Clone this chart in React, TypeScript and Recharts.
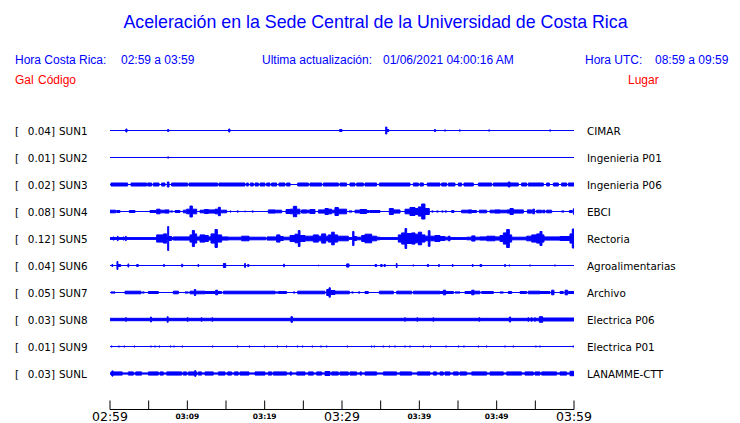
import { AreaChart, Area, XAxis, YAxis, LineChart, Line } from 'recharts'

// ─── Data (minutes after 02:59, amplitude in Gal) ────

const STATIONS = ['SUN1', 'SUN2', 'SUN3', 'SUN4', 'SUN5', 'SUN6', 'SUN7', 'SUN8', 'SUN9', 'SUNL']
const PEAKS = ['0.04', '0.01', '0.02', '0.08', '0.12', '0.04', '0.05', '0.03', '0.01', '0.03']
const PLACES = [
  'CIMAR', 'Ingenieria P01', 'Ingenieria P06', 'EBCI', 'Rectoria',
  'Agroalimentarias', 'Archivo', 'Electrica P06', 'Electrica P01', 'LANAMME-CTT',
]
// background amplitude of each trace between events
const BASES = [0, 0, 0, 0, 0.009, 0, 0, 0.012, 0, 0.006]

type Ev = [number, number, number] // start, end, amplitude

const SUN1: Ev[] = [
  [2.05, 2.2, 0.015], [7.45, 7.6, 0.01], [15.35, 15.5, 0.015], [29.7, 30.0, 0.01],
  [35.65, 35.8, 0.035], [35.8, 36.05, 0.01], [41.95, 42.1, 0.01], [43.25, 43.4, 0.006],
  [45.15, 45.3, 0.006], [48.95, 49.1, 0.006], [56.85, 57.0, 0.006],
]

const SUN2: Ev[] = [[7.45, 7.6, 0.006]]

const SUN3: Ev[] = [
  [0.13, 2.28, 0.015], [2.72, 4.74, 0.015], [4.87, 5.39, 0.015], [5.6, 6.34, 0.015],
  [6.68, 7.11, 0.015], [7.41, 7.63, 0.025], [7.97, 10.04, 0.015], [10.22, 13.92, 0.015],
  [14.09, 17.46, 0.015], [17.67, 17.89, 0.015], [18.15, 18.53, 0.015], [18.75, 19.18, 0.015],
  [19.4, 20.04, 0.015], [20.26, 20.69, 0.015], [20.9, 21.55, 0.015], [21.85, 22.63, 0.015],
  [22.84, 23.28, 0.015], [24.27, 25.65, 0.015], [25.86, 27.37, 0.015], [27.59, 29.53, 0.015],
  [29.74, 30.6, 0.015], [31.03, 31.68, 0.015], [31.9, 32.76, 0.015], [32.97, 34.48, 0.015],
  [34.83, 38.79, 0.015], [39.22, 39.87, 0.015], [40.09, 40.52, 0.015], [41.03, 42.67, 0.015],
  [42.89, 43.53, 0.015], [43.75, 44.61, 0.015], [45.04, 45.47, 0.015], [45.77, 46.98, 0.015],
  [47.63, 49.35, 0.015], [49.57, 51.5, 0.015], [51.5, 51.72, 0.025], [51.72, 52.8, 0.015],
  [53.23, 53.88, 0.015], [54.09, 56.03, 0.015], [56.46, 56.81, 0.015], [57.33, 57.97, 0.015],
  [58.4, 59.05, 0.015], [59.27, 60, 0.015],
]

const SUN4: Ev[] = [
  [0, 0.73, 0.013], [0.86, 1.29, 0.01], [2.5, 3.23, 0.01], [5.17, 6.03, 0.01],
  [6.03, 6.47, 0.023], [6.47, 7.11, 0.013], [7.11, 7.63, 0.016], [7.84, 8.1, 0.006],
  [8.41, 9.05, 0.01], [9.48, 9.91, 0.013], [9.91, 10.34, 0.023], [10.34, 10.65, 0.055],
  [10.65, 11.21, 0.023], [11.64, 12.2, 0.013], [12.2, 12.72, 0.02], [12.72, 13.58, 0.016],
  [13.58, 14.01, 0.023], [14.01, 14.27, 0.042], [14.27, 15.09, 0.013], [15.52, 15.65, 0.006],
  [16.42, 16.6, 0.006], [17.41, 17.54, 0.004], [18.36, 18.53, 0.006], [20.47, 21.34, 0.016],
  [21.34, 22.2, 0.013], [22.76, 23.28, 0.02], [23.28, 23.71, 0.023], [23.71, 24.14, 0.052],
  [24.14, 24.57, 0.023], [24.78, 25.43, 0.016], [25.43, 25.86, 0.013], [25.86, 26.51, 0.02],
  [26.94, 27.8, 0.016], [27.8, 28.23, 0.03], [28.23, 28.66, 0.023], [28.66, 29.09, 0.013],
  [29.09, 29.53, 0.04], [29.53, 30.6, 0.023], [30.9, 31.3, 0.006], [31.68, 32.33, 0.013],
  [32.33, 33.19, 0.02], [33.19, 33.53, 0.01], [33.62, 34.91, 0.01], [36.12, 36.64, 0.03],
  [36.64, 37.5, 0.016], [38.15, 38.79, 0.023], [38.79, 39.44, 0.04], [39.44, 39.87, 0.03],
  [39.87, 40.3, 0.046], [40.3, 40.73, 0.075], [40.73, 41.29, 0.03], [41.6, 41.8, 0.006],
  [42.24, 42.45, 0.006], [42.89, 43.1, 0.006], [43.32, 43.53, 0.006], [44.18, 44.48, 0.01],
  [45.47, 46.34, 0.013], [46.34, 46.77, 0.016], [46.77, 47.41, 0.01], [47.76, 48.71, 0.013],
  [49.14, 49.78, 0.013], [49.78, 50.43, 0.016], [50.43, 51.2, 0.013], [51.29, 51.72, 0.016],
  [51.72, 52.15, 0.03], [52.15, 53.45, 0.016], [53.97, 54.53, 0.016], [54.66, 54.91, 0.023],
  [55.17, 55.82, 0.013], [55.95, 56.25, 0.013], [56.46, 57.11, 0.013], [58.4, 58.7, 0.006],
  [59.4, 59.78, 0.01], [59.91, 60, 0.027],
]

const SUN5: Ev[] = [
  [0.4, 0.5, 0.016], [0.95, 1.05, 0.022], [1.7, 1.8, 0.016], [2.0, 2.1, 0.022],
  [6.03, 6.9, 0.036], [6.9, 7.33, 0.046], [7.33, 7.46, 0.023], [7.46, 7.59, 0.12],
  [7.59, 7.97, 0.02], [8.19, 9.7, 0.016], [9.7, 10.34, 0.016], [10.34, 10.65, 0.036],
  [10.65, 10.91, 0.08], [10.91, 11.21, 0.046], [11.21, 11.64, 0.016], [11.64, 12.28, 0.036],
  [12.28, 12.72, 0.03], [12.72, 13.06, 0.016], [13.06, 13.58, 0.046], [13.58, 13.88, 0.09],
  [13.88, 14.44, 0.036], [14.44, 15.3, 0.016], [15.3, 17.03, 0.013], [17.03, 17.97, 0.023],
  [17.97, 20.13, 0.013], [20.13, 20.3, 0], [20.3, 21.55, 0.016], [21.55, 21.98, 0.036],
  [21.98, 22.41, 0.02], [22.41, 23.28, 0.013], [23.28, 23.92, 0.03], [23.92, 24.35, 0.043],
  [24.35, 24.57, 0.08], [24.57, 25.22, 0.03], [25.22, 26.29, 0.023], [26.29, 26.94, 0.036],
  [26.94, 27.37, 0.023], [27.37, 27.89, 0.046], [27.89, 28.23, 0.023], [28.23, 28.66, 0.036],
  [28.66, 29.0, 0.063], [29.0, 29.44, 0.036], [29.44, 30.82, 0.023], [31.38, 31.55, 0.07],
  [31.55, 31.9, 0.02], [31.9, 32.54, 0.013], [32.54, 32.97, 0.03], [32.97, 33.84, 0.043],
  [33.84, 34.48, 0.023], [34.48, 34.91, 0.013], [37.28, 37.71, 0.036], [37.71, 38.15, 0.056],
  [38.15, 38.36, 0.1], [38.36, 39.0, 0.05], [39.0, 39.44, 0.056], [39.44, 39.87, 0.043],
  [39.87, 40.3, 0.063], [40.3, 40.73, 0.036], [40.73, 41.16, 0.023], [41.16, 41.38, 0.078],
  [41.38, 42.02, 0.023], [42.02, 42.67, 0.03], [42.67, 43.32, 0.02], [43.32, 43.75, 0.013],
  [43.75, 43.97, 0.023], [46.12, 46.77, 0.013], [46.77, 47.2, 0.026], [47.2, 47.84, 0.013],
  [47.84, 48.71, 0.016], [48.71, 49.78, 0.023], [49.78, 50.43, 0.016], [50.43, 50.86, 0.03],
  [50.86, 51.29, 0.056], [51.29, 51.64, 0.09], [51.64, 51.94, 0.036], [51.94, 53.88, 0.013],
  [53.88, 54.53, 0.023], [54.53, 55.17, 0.036], [55.17, 55.6, 0.046], [55.6, 55.86, 0.07],
  [55.86, 56.12, 0.036], [56.12, 58.19, 0.016], [58.19, 59.48, 0.02], [59.48, 59.78, 0.046],
  [59.78, 60, 0.095],
]

const SUN6: Ev[] = [
  [0.25, 0.35, 0.01], [0.9, 1.02, 0.04], [1.02, 1.38, 0.01], [2.32, 2.42, 0.016],
  [3.45, 3.66, 0.01], [6.93, 7.03, 0.01], [9.27, 9.4, 0.013], [11.37, 11.47, 0.01],
  [14.66, 14.96, 0.02], [17.41, 17.51, 0.02], [17.8, 17.97, 0.01], [22.45, 22.55, 0.013],
  [26.9, 27.0, 0.004], [30.6, 30.9, 0.016], [34.27, 34.48, 0.01], [35.0, 35.2, 0.01],
  [35.44, 35.6, 0.01], [37.02, 37.12, 0.02], [39.17, 39.27, 0.006], [41.03, 41.2, 0.01],
  [42.49, 42.59, 0.01], [44.26, 44.36, 0.01], [46.85, 46.95, 0.01], [47.84, 48.06, 0.01],
  [51.03, 51.13, 0.01], [51.59, 51.69, 0.006], [54.26, 54.36, 0.006], [57.49, 57.59, 0.006],
]

const SUN7: Ev[] = [
  [0.13, 0.65, 0.006], [1.94, 4.01, 0.013], [4.18, 4.44, 0.006], [4.96, 6.25, 0.01],
  [8.19, 8.84, 0.013], [9.7, 10.13, 0.006], [10.34, 10.91, 0.013], [10.91, 11.08, 0.03],
  [11.08, 12.28, 0.013], [12.28, 13.58, 0.01], [13.66, 13.92, 0.023], [13.92, 14.44, 0.01],
  [14.66, 21.34, 0.013], [21.34, 21.77, 0.006], [21.77, 22.84, 0.01], [23.71, 23.92, 0.006],
  [24.27, 27.8, 0.013], [28.02, 28.32, 0.03], [28.32, 28.49, 0.047], [28.49, 29.09, 0.02],
  [29.09, 30.95, 0.013], [31.25, 31.46, 0.006], [32.1, 32.33, 0.006], [32.97, 33.4, 0.01],
  [34.83, 36.64, 0.013], [37.07, 39.01, 0.013], [39.22, 42.67, 0.013], [42.67, 43.1, 0.01],
  [43.1, 43.4, 0.023], [43.4, 44.4, 0.01], [44.61, 45.26, 0.006], [45.9, 46.77, 0.01],
  [46.77, 47.07, 0.023], [47.07, 47.84, 0.013], [48.06, 49.57, 0.01], [50.43, 50.86, 0.006],
  [51.51, 51.94, 0.01], [53.02, 53.88, 0.01], [54.09, 55.6, 0.013], [55.6, 56.9, 0.01],
  [57.11, 57.41, 0.023], [58.19, 58.62, 0.01], [58.84, 59.18, 0.023], [59.27, 60, 0.01],
]

const SUN8: Ev[] = [
  [2.0, 2.12, 0.018], [5.24, 5.36, 0.025], [7.4, 7.52, 0.028], [9.98, 10.1, 0.018],
  [11.8, 11.9, 0.018], [13.18, 13.28, 0.018], [23.4, 23.6, 0.028], [38.1, 38.2, 0.018],
  [39.69, 39.79, 0.018], [41.76, 41.86, 0.018], [47.71, 47.81, 0.018], [51.64, 51.8, 0.025],
  [54.04, 54.14, 0.018], [54.48, 54.58, 0.018], [54.91, 55.01, 0.018], [55.52, 55.95, 0.028],
  [55.95, 60, 0.015],
]

const SUN9: Ev[] = [
  [0.17, 0.27, 0.006], [1.11, 1.21, 0.006], [1.8, 1.9, 0.006], [3.1, 3.2, 0.006],
  [5.25, 5.35, 0.006], [5.77, 5.87, 0.006], [6.33, 6.43, 0.006], [7.79, 7.89, 0.006],
  [8.23, 8.33, 0.006], [9.3, 9.4, 0.006], [13.23, 13.33, 0.006], [16.46, 16.56, 0.006],
  [17.97, 18.07, 0.006], [19.91, 20.01, 0.006], [21.59, 21.69, 0.006], [22.79, 22.89, 0.006],
  [24.22, 24.32, 0.006], [24.86, 24.96, 0.006], [26.11, 26.21, 0.006], [27.23, 27.33, 0.006],
  [27.97, 28.07, 0.006], [30.64, 30.74, 0.006], [33.78, 33.88, 0.006], [34.13, 34.23, 0.006],
  [35.29, 35.39, 0.006], [36.07, 36.17, 0.006], [36.8, 36.9, 0.006], [38.1, 38.2, 0.006],
  [38.74, 38.84, 0.006], [40.47, 40.57, 0.006], [41.41, 41.51, 0.006], [43.4, 43.5, 0.006],
  [44.99, 45.09, 0.006], [45.72, 45.82, 0.006], [47.58, 47.68, 0.006], [48.66, 48.76, 0.006],
  [51.03, 51.13, 0.006], [52.1, 52.2, 0.006], [55.03, 55.13, 0.006], [55.55, 55.65, 0.006],
  [59.86, 59.96, 0.006],
]

const SUNL: Ev[] = [
  [0.13, 0.25, 0.016], [0.25, 0.4, 0.026], [0.4, 1.59, 0.016], [2.37, 3.02, 0.016],
  [3.32, 4.09, 0.016], [4.96, 6.25, 0.016], [6.47, 6.9, 0.016], [7.33, 9.27, 0.016],
  [9.48, 9.91, 0.016], [10.13, 10.95, 0.016], [10.95, 11.1, 0.028], [11.1, 11.21, 0.016],
  [11.42, 11.85, 0.016], [12.28, 13.36, 0.016], [14.01, 14.87, 0.016], [15.22, 15.73, 0.016],
  [16.08, 16.59, 0.016], [16.81, 17.97, 0.016], [18.75, 20.04, 0.016], [20.47, 20.91, 0.016],
  [21.12, 22.84, 0.016], [23.28, 23.49, 0.016], [24.14, 25.22, 0.016], [25.65, 26.29, 0.016],
  [26.72, 27.37, 0.016], [27.8, 28.45, 0.02], [28.66, 29.53, 0.016], [29.74, 30.82, 0.016],
  [31.03, 31.9, 0.016], [32.33, 32.54, 0.016], [32.97, 34.48, 0.016], [35.34, 37.07, 0.016],
  [37.5, 39.01, 0.016], [39.74, 41.38, 0.016], [41.81, 42.24, 0.016], [42.67, 43.1, 0.016],
  [43.32, 43.96, 0.016], [44.4, 45.04, 0.016], [45.26, 46.12, 0.016], [46.77, 48.71, 0.016],
  [49.14, 50.86, 0.016], [51.29, 53.23, 0.016], [53.66, 54.74, 0.016], [54.96, 55.6, 0.016],
  [55.82, 57.76, 0.016], [58.19, 59.05, 0.016], [59.48, 60, 0.022],
]

const EVENTS = [SUN1, SUN2, SUN3, SUN4, SUN5, SUN6, SUN7, SUN8, SUN9, SUNL]

const TICK_MINUTES = [0, 5, 10, 15, 20, 25, 30, 35, 40, 45, 50, 55, 60]
const TICK_LABELS = ['02:59', '', '03:09', '', '03:19', '', '03:29', '', '03:39', '', '03:49', '', '03:59']
const MAJOR_LABELS = ['02:59', '03:29', '03:59']

// ─── layout ─────────────────────────────────────────────────────────────────

const BLUE = '#0000ff'
const RED = '#ff0000'
const PLOT_X = 110
const PLOT_W = 464
const ROW_TOP = 117
const ROW_H = 27
const SANS = '"Liberation Sans", Arial, sans-serif'
const DEJAVU = '"DejaVu Sans", sans-serif'

// step-shaped envelope rows from the event list of one station
function buildRows(base: number, events: Ev[]) {
  const rows: { t: number; v: [number, number] }[] = []
  const push = (t: number, a: number) => rows.push({ t, v: [-a, a] })
  push(0, base)
  let last = 0
  for (const [s, e, a] of events) {
    if (s > last) push(s, a)
    else { rows.pop(); push(s, a) }
    push(e, base)
    last = e
  }
  if (last < 60) push(60, base)
  return rows
}

function Trace({ index }: { index: number }) {
  const rows = buildRows(BASES[index], EVENTS[index])
  return (
    <div style={{ position: 'absolute', left: PLOT_X, top: ROW_TOP + index * ROW_H }}>
      <AreaChart width={PLOT_W} height={ROW_H} data={rows} margin={{ top: 0, right: 0, bottom: 0, left: 0 }}>
        <XAxis dataKey="t" type="number" domain={[0, 60]} hide />
        <YAxis type="number" domain={[-0.135, 0.135]} hide allowDataOverflow />
        <Area
          dataKey="v"
          type="stepAfter"
          stroke={BLUE}
          strokeWidth={1}
          fill={BLUE}
          fillOpacity={1}
          dot={false}
          activeDot={false}
          isAnimationActive={false}
        />
      </AreaChart>
    </div>
  )
}

function TimeTick({ x, y, payload }: any) {
  const i = TICK_MINUTES.indexOf(payload.value)
  const label = TICK_LABELS[i] ?? ''
  const major = MAJOR_LABELS.includes(label)
  return (
    <g>
      <line x1={x} y1={y - 9} x2={x} y2={y} stroke="#000" strokeWidth={1} />
      {label && (
        <text
          x={x}
          y={y + (major ? 7 : 6.5)}
          textAnchor="middle"
          dominantBaseline="central"
          fontFamily={DEJAVU}
          fontSize={major ? 12.5 : 7.5}
          fontWeight={major ? 400 : 700}
          fill="#000"
        >
          {label}
        </text>
      )}
    </g>
  )
}

function TimeAxis() {
  const rows = TICK_MINUTES.map((t) => ({ t }))
  return (
    <div style={{ position: 'absolute', left: PLOT_X - 30, top: 395 }}>
      <LineChart width={PLOT_W + 60} height={28} data={rows} margin={{ top: 0, right: 30, bottom: 0, left: 30 }}>
        <XAxis
          dataKey="t"
          type="number"
          domain={[0, 60]}
          ticks={TICK_MINUTES}
          interval={0}
          height={13.5}
          tickSize={0}
          tickMargin={0}
          tickLine={false}
          axisLine={{ stroke: '#000', strokeWidth: 1 }}
          tick={<TimeTick />}
        />
        <YAxis hide domain={[0, 1]} />
        <Line dataKey="t" stroke="none" dot={false} isAnimationActive={false} />
      </LineChart>
    </div>
  )
}

export default function App() {
  const txt = { dominantBaseline: 'central' as const }
  return (
    <div style={{ position: 'absolute', left: 0, top: 0, width: 740, height: 423, background: '#fff', overflow: 'hidden' }}>
      <svg width={740} height={423} style={{ position: 'absolute', left: 0, top: 0 }}>
        <text x={375.5} y={22} textAnchor="middle" fontFamily={SANS} fontSize={17.8} fill={BLUE} {...txt}>
          Aceleración en la Sede Central de la Universidad de Costa Rica
        </text>
        <g fontFamily={SANS} fontSize={12} fill={BLUE}>
          <text x={15} y={60} {...txt}>Hora Costa Rica:</text>
          <text x={121} y={60} {...txt}>02:59 a 03:59</text>
          <text x={262} y={60} {...txt}>Ultima actualización:</text>
          <text x={383} y={60} {...txt}>01/06/2021 04:00:16 AM</text>
          <text x={585} y={60} {...txt}>Hora UTC:</text>
          <text x={655} y={60} {...txt}>08:59 a 09:59</text>
        </g>
        <g fontFamily={SANS} fontSize={12} fill={RED}>
          <text x={15} y={80} {...txt}>Gal</text>
          <text x={38} y={80} {...txt}>Código</text>
          <text x={628} y={80} {...txt}>Lugar</text>
        </g>
        <g fontFamily={DEJAVU} fontSize={10.4} fill="#000">
          {STATIONS.map((s, i) => {
            const y = ROW_TOP + i * ROW_H + 13.5
            return (
              <g key={s}>
                <text x={15} y={y} {...txt}>[</text>
                <text x={55} y={y} textAnchor="end" {...txt}>{PEAKS[i]}]</text>
                <text x={59} y={y} {...txt}>{s}</text>
                <text x={587} y={y} {...txt}>{PLACES[i]}</text>
              </g>
            )
          })}
        </g>
      </svg>
      {STATIONS.map((s, i) => <Trace key={s} index={i} />)}
      <TimeAxis />
    </div>
  )
}
